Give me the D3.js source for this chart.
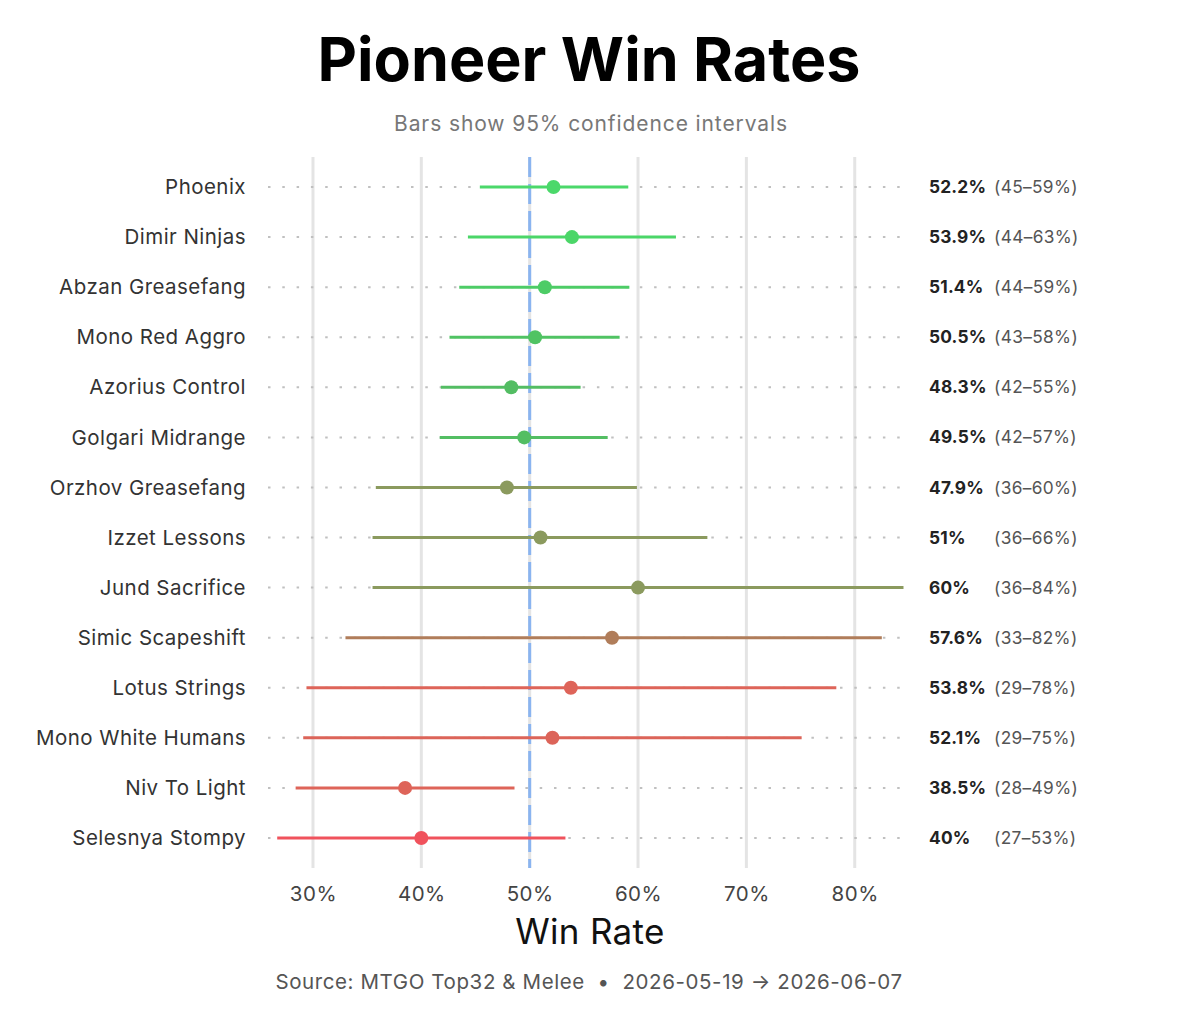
<!DOCTYPE html>
<html>
<head>
<meta charset="utf-8">
<script src="https://cdn.jsdelivr.net/npm/d3@7"></script>
<style>
  html, body { margin: 0; padding: 0; background: #fff; }
  svg { display: block; font-family: Inter, "Noto Sans", sans-serif; }
</style>
</head>
<body>
<svg id="chart" width="1200" height="1029"></svg>
<script>
// ---- data ----
const decks = ["Phoenix","Dimir Ninjas","Abzan Greasefang","Mono Red Aggro","Azorius Control","Golgari Midrange","Orzhov Greasefang","Izzet Lessons","Jund Sacrifice","Simic Scapeshift","Lotus Strings","Mono White Humans","Niv To Light","Selesnya Stompy"];
const winRate = [52.2, 53.9, 51.4, 50.5, 48.3, 49.5, 47.9, 51.0, 60.0, 57.6, 53.8, 52.1, 38.5, 40.0];
const ciLow  = [45.4, 44.3, 43.5, 42.6, 41.8, 41.7, 35.8, 35.5, 35.5, 33.0, 29.4, 29.1, 28.4, 26.7];
const ciHigh = [59.1, 63.5, 59.2, 58.3, 54.7, 57.2, 59.9, 66.4, 84.5, 82.5, 78.3, 75.1, 48.6, 53.3];
const valueLabels = ["52.2%","53.9%","51.4%","50.5%","48.3%","49.5%","47.9%","51%","60%","57.6%","53.8%","52.1%","38.5%","40%"];
const ciLabels = ["(45–59%)","(44–63%)","(44–59%)","(43–58%)","(42–55%)","(42–57%)","(36–60%)","(36–66%)","(36–84%)","(33–82%)","(29–78%)","(29–75%)","(28–49%)","(27–53%)"];
const colors = ["#4bd86a","#4bd668","#4dcc66","#50c363","#53bd63","#53be63","#8b9a5e","#8b9a5e","#8b9a5e","#b07d5a","#de6459","#dc6459","#de6459","#f0525c"];
const xTicks = [30, 40, 50, 60, 70, 80];
const refLine = 50;

// ---- layout ----
const svg = d3.select("#chart");
const x = d3.scaleLinear().domain([25.85, 85.1]).range([268, 910]);
const y = d3.scaleBand().domain(decks).range([162, 863]).padding(0);
const cy = d => y(d) + y.bandwidth() / 2;
const data = decks.map((d, i) => ({deck: d, wr: winRate[i], lo: ciLow[i], hi: ciHigh[i], v: valueLabels[i], ci: ciLabels[i], c: colors[i]}));

// vertical gridlines
svg.append("g").selectAll("line").data(xTicks).join("line")
  .attr("x1", d => x(d)).attr("x2", d => x(d))
  .attr("y1", 157).attr("y2", 868)
  .attr("stroke", "#e4e4e4").attr("stroke-width", 3);

// dotted row guides
svg.append("g").selectAll("line").data(data).join("line")
  .attr("x1", x.range()[0]).attr("x2", x.range()[1])
  .attr("y1", d => cy(d.deck)).attr("y2", d => cy(d.deck))
  .attr("stroke", "#c0c0c0").attr("stroke-width", 2)
  .attr("stroke-dasharray", "2.5 11.8");

// reference line
svg.append("line")
  .attr("x1", x(refLine)).attr("x2", x(refLine))
  .attr("y1", 157).attr("y2", 868)
  .attr("stroke", "#8ab4f0").attr("stroke-width", 3)
  .attr("stroke-dasharray", "20 7");

// CI bars
svg.append("g").selectAll("line").data(data).join("line")
  .attr("x1", d => x(d.lo)).attr("x2", d => x(d.hi))
  .attr("y1", d => cy(d.deck)).attr("y2", d => cy(d.deck))
  .attr("stroke", d => d.c).attr("stroke-width", 3);

// points
svg.append("g").selectAll("circle").data(data).join("circle")
  .attr("cx", d => x(d.wr)).attr("cy", d => cy(d.deck)).attr("r", 7)
  .attr("fill", d => d.c);

// deck labels
svg.append("g").selectAll("text").data(data).join("text")
  .attr("x", 246).attr("y", d => cy(d.deck)).attr("dy", "0.35em")
  .attr("text-anchor", "end").attr("font-size", 20.5).attr("letter-spacing", 0.45).attr("fill", "#333")
  .text(d => d.deck);

// value labels
svg.append("g").selectAll("text").data(data).join("text")
  .attr("x", 929).attr("y", d => cy(d.deck)).attr("dy", "0.35em")
  .attr("font-size", 17.3).attr("font-weight", 700).attr("letter-spacing", 0.2).attr("fill", "#222")
  .text(d => d.v);
svg.append("g").selectAll("text").data(data).join("text")
  .attr("x", 994).attr("y", d => cy(d.deck)).attr("dy", "0.35em")
  .attr("font-size", 17.3).attr("letter-spacing", 0.35).attr("fill", "#555")
  .text(d => d.ci);

// x axis tick labels
const xAxis = d3.axisBottom(x).tickValues(xTicks).tickFormat(d => d + "%").tickSize(0).tickPadding(0);
const gx = svg.append("g").attr("transform", "translate(0,886)").call(xAxis);
gx.select(".domain").remove();
gx.selectAll("text").attr("font-size", 20.5).attr("letter-spacing", 0.5).attr("fill", "#444").attr("font-family", "Inter, sans-serif");

// axis title
svg.append("text").attr("x", 590).attr("y", 944).attr("text-anchor", "middle")
  .attr("font-size", 35).attr("letter-spacing", 0.3).attr("fill", "#111").text("Win Rate");

// title + subtitle
svg.append("text").attr("x", 589).attr("y", 81).attr("text-anchor", "middle")
  .attr("font-size", 61).attr("font-weight", 700).attr("fill", "#000").text("Pioneer Win Rates");
svg.append("text").attr("x", 591).attr("y", 131).attr("text-anchor", "middle")
  .attr("font-size", 21).attr("letter-spacing", 0.9).attr("fill", "#777").text("Bars show 95% confidence intervals");

// source
svg.append("text").attr("x", 589).attr("y", 989).attr("text-anchor", "middle")
  .attr("font-size", 20.5).attr("letter-spacing", 0.6).attr("fill", "#555").attr("xml:space", "preserve")
  .text("Source: MTGO Top32 & Melee  •  2026-05-19 → 2026-06-07");
</script>
</body>
</html>
